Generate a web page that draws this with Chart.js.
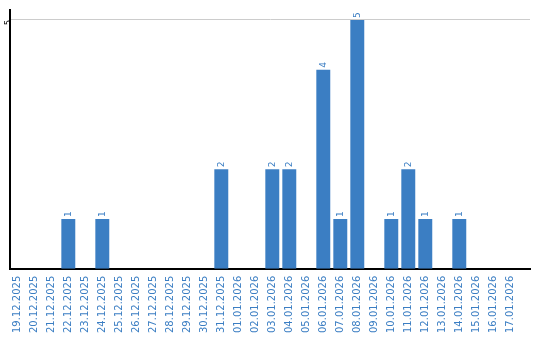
<!DOCTYPE html>
<html>
<head>
<meta charset="utf-8">
<script src="https://cdn.jsdelivr.net/npm/chart.js@4/dist/chart.umd.min.js"></script>
<style>
  body { margin: 0; background: #fff; }
  #wrap { width: 540px; height: 340px; }
</style>
</head>
<body>
<div id="wrap"><canvas id="bookingsChart"></canvas></div>
<script>
// dates on the x axis
const days = ['19.12.2025', '20.12.2025', '21.12.2025', '22.12.2025', '23.12.2025', '24.12.2025',
  '25.12.2025', '26.12.2025', '27.12.2025', '28.12.2025', '29.12.2025', '30.12.2025', '31.12.2025',
  '01.01.2026', '02.01.2026', '03.01.2026', '04.01.2026', '05.01.2026', '06.01.2026', '07.01.2026',
  '08.01.2026', '09.01.2026', '10.01.2026', '11.01.2026', '12.01.2026', '13.01.2026', '14.01.2026',
  '15.01.2026', '16.01.2026', '17.01.2026'];

// count per day
const counts = [0, 0, 0, 1, 0, 1, 0, 0, 0, 0, 0, 0, 2, 0, 0, 2, 2, 0, 4, 1, 5, 0, 1, 2, 1, 0, 1, 0, 0, 0];

// only one y tick is shown
const yTicks = [5];

const blue = '#3b7ec3';

// value labels on top of the bars, written upwards
const barValues = {
  id: 'barValues',
  afterDatasetsDraw(chart) {
    const ctx = chart.ctx;
    const meta = chart.getDatasetMeta(0);
    ctx.save();
    ctx.fillStyle = blue;
    ctx.font = '9px "DejaVu Sans"';
    ctx.textAlign = 'left';
    ctx.textBaseline = 'middle';
    meta.data.forEach((bar, i) => {
      const v = counts[i];
      if (!v) return;
      ctx.save();
      ctx.translate(bar.x, bar.y - 2);
      ctx.rotate(-Math.PI / 2);
      ctx.fillText(String(v), 0, 0);
      ctx.restore();
    });
    ctx.restore();
  }
};

const config = {
  type: 'bar',
  data: {
    datasets: [{
      data: counts.map((v, i) => ({ x: i, y: v })),
      backgroundColor: blue,
      borderWidth: 0,
      categoryPercentage: 1,
      barPercentage: 0.82
    }]
  },
  options: {
    responsive: false,
    animation: false,
    layout: { padding: { top: 10, right: 10, bottom: 0, left: 0 } },
    plugins: { legend: { display: false }, tooltip: { enabled: false } },
    scales: {
      x: {
        type: 'linear',
        offset: false,
        min: -0.43,
        max: 30.16,
        afterBuildTicks: axis => { axis.ticks = days.map((d, i) => ({ value: i })); },
        afterFit: axis => { axis.paddingLeft = 0; axis.paddingRight = 0; },
        ticks: {
          callback: v => days[v],
          autoSkip: false,
          minRotation: 90,
          maxRotation: 90,
          padding: 7,
          color: blue,
          font: { family: 'DejaVu Sans', size: 10 }
        },
        grid: { display: false, drawTicks: false, offset: false },
        border: { display: true, color: '#000', width: 2 }
      },
      y: {
        min: 0,
        max: 5.2,
        afterBuildTicks: axis => { axis.ticks = yTicks.map(v => ({ value: v })); },
        ticks: {
          minRotation: 90,
          maxRotation: 90,
          padding: 1,
          color: '#000',
          font: { family: 'DejaVu Sans', size: 8, lineHeight: 1 }
        },
        grid: { color: '#cccccc', drawTicks: false },
        border: { display: true, color: '#000', width: 2 }
      }
    }
  },
  plugins: [barValues]
};

const canvas = document.getElementById('bookingsChart');
canvas.width = 540;
canvas.height = 340;
new Chart(canvas, config);
</script>
</body>
</html>
